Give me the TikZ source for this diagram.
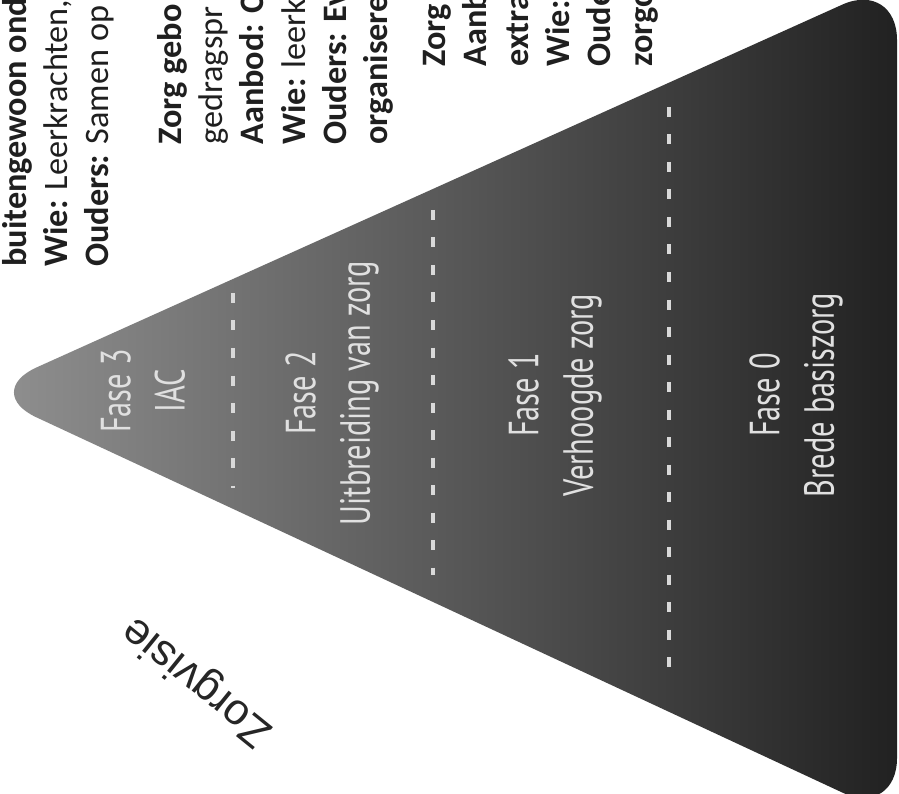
\documentclass[tikz,border=0pt]{standalone}
\usepackage{fontspec}
\newfontfamily\fasefont[FakeStretch=0.72]{PT Sans}
\newfontfamily\blokfont{Carlito}
\newfontfamily\visiefont{Liberation Sans}

\begin{document}
\begin{tikzpicture}[x=0.2mm,y=0.2mm]
  \tikzstyle{fase}=[text=black!12, rotate=90, align=center, inner sep=0pt, font=\fasefont\fontsize{24}{31}\selectfont]
  \tikzstyle{blok}=[text=black!88, rotate=90, align=left, anchor=north west, inner sep=0pt, font=\blokfont\fontsize{19.5}{23.5}\selectfont]
  \tikzstyle{grens}=[draw=black!15, line width=0.8mm, dash pattern=on 2mm off 3.5mm]
  \tikzstyle{visie}=[text=black!85, rotate=141, inner sep=0pt, font=\visiefont\fontsize{25}{30}\selectfont]
  \useasboundingbox (0,0) rectangle (899,793);
  \fill[white] (0,0) rectangle (899,793);
  % piramide, liggend
  \shade[rounded corners=12mm, left color=black!43, middle color=black!69, right color=black!87]
    (-18,401) -- (897,813) -- (897,-25) -- cycle;
  \draw[grens] (233,500) -- (233,305);
  \draw[grens] (433,583) -- (433,218);
  \draw[grens] (669,686) -- (669,111);
  % fasen
  \node[fase] (f3) at (143,402) {Fase 3\\IAC};
  \node[fase] (f2) at (332,400) {Fase 2\\Uitbreiding van zorg};
  \node[fase] (f1) at (555,398) {Fase 1\\Verhoogde zorg};
  \node[fase] (f0) at (796,398) {Fase 0\\Brede basiszorg};
  % tekstblokken bovenaan
  \node[blok] (b3) at (2,526) {\textbf{buitengewoon onde}\\\textbf{Wie:} Leerkrachten, z\\\textbf{Ouders:} Samen op};
  \node[blok] (b2) at (157,648) {\textbf{Zorg gebo}\\gedragspr\\\textbf{Aanbod: C}\\\textbf{Wie:} leerkr\\\textbf{Ouders: Ev}\\\textbf{organiseren}};
  \node[blok] (b1) at (423,726) {\textbf{Zorg}\\\textbf{Aanb}\\\textbf{extra}\\\textbf{Wie:}\\\textbf{Oude}\\\textbf{zorgc}};
  \node[visie] (zv) at (198,112) {Zorgvisie};
\end{tikzpicture}
\end{document}
